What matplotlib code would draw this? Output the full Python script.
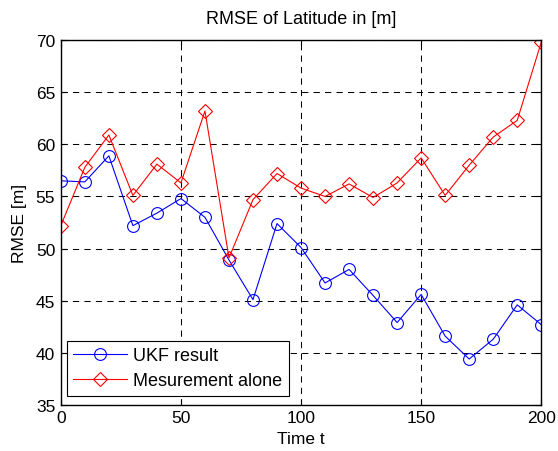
import numpy as np
import matplotlib.pyplot as plt

plt.rcParams['font.family'] = ['Liberation Sans', 'DejaVu Sans']

#%% data
t = np.arange(0, 201, 10)
rmse_ukf = [56.5, 56.4, 58.9, 52.2, 53.4, 54.8, 53.0, 48.9, 45.1, 52.4, 50.1,
            46.7, 48.0, 45.5, 42.9, 45.6, 41.6, 39.4, 41.3, 44.6, 42.7]
rmse_meas = [52.2, 57.8, 60.9, 55.1, 58.1, 56.3, 63.2, 49.1, 54.7, 57.2, 55.8,
             55.0, 56.2, 54.9, 56.3, 58.7, 55.1, 58.0, 60.7, 62.3, 69.8]
x_ticks = [0, 50, 100, 150, 200]
y_ticks = [35, 40, 45, 50, 55, 60, 65, 70]

#%% plot
fig = plt.figure(figsize=(5.58, 4.52), dpi=100)
ax = fig.add_axes([0.109, 0.102, 0.861, 0.807])

ax.plot(t, rmse_ukf, '-o', color='blue', lw=0.8, markersize=8.5,
        markerfacecolor='none', markeredgewidth=0.8, label='UKF result')
ax.plot(t, rmse_meas, '-D', color='red', lw=0.8, markersize=7.5,
        markerfacecolor='none', markeredgewidth=0.8, label='Mesurement alone')

ax.set_xlim(0, 200)
ax.set_ylim(35, 70)
ax.set_xticks(x_ticks)
ax.set_yticks(y_ticks)
ax.grid(True, color='black', linestyle=(0, (6, 5)), linewidth=0.75)
ax.tick_params(direction='in', top=True, right=True, labelsize=12.5, length=4,
               width=0.8, pad=4)
for s in ax.spines.values():
    s.set_linewidth(1.0)

ax.set_title('RMSE of Latitude in [m]', fontsize=13, pad=12)
ax.set_xlabel('Time t', fontsize=12.5, labelpad=4)
ax.set_ylabel('RMSE [m]', fontsize=12.5, labelpad=6)

leg = ax.legend(loc='lower left', bbox_to_anchor=(0.012, 0.025), fontsize=13,
                fancybox=False, framealpha=1, edgecolor='black',
                handlelength=3.0, handletextpad=0.35, borderaxespad=0,
                borderpad=0.35, labelspacing=0.45)
leg.get_frame().set_linewidth(0.8)

plt.savefig('out.png', dpi=100)
